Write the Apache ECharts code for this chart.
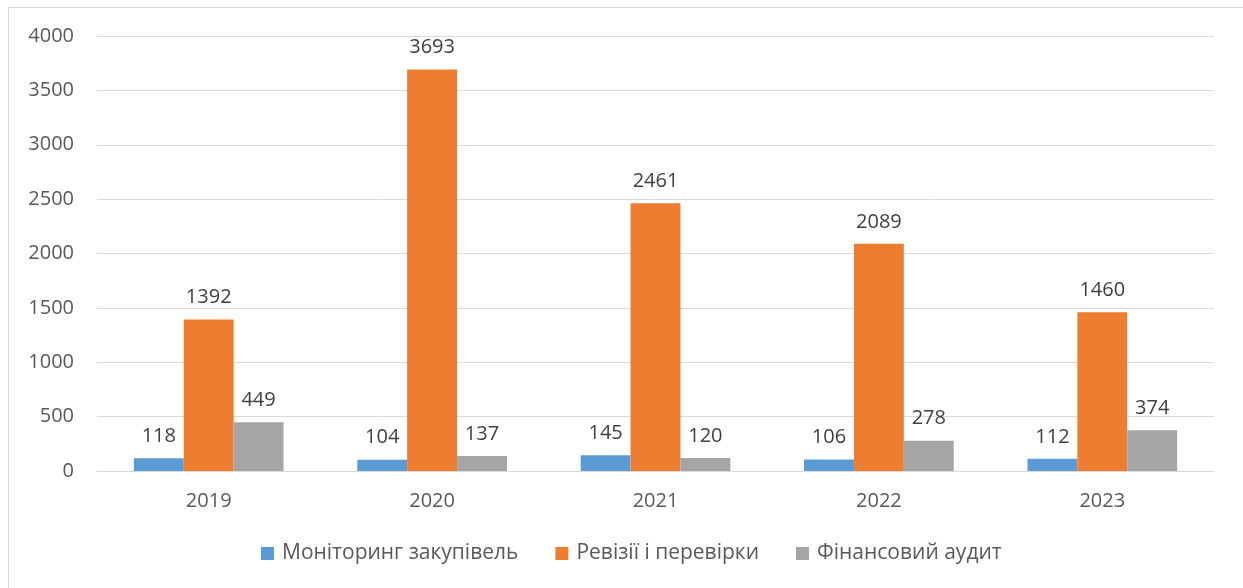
<!DOCTYPE html>
<html><head><meta charset="utf-8">
<script src="https://cdn.jsdelivr.net/npm/echarts@6/dist/echarts.min.js"></script>
<style>html,body{margin:0;padding:0;background:#fff}#frame{position:absolute;left:8px;top:7px;width:1240px;height:590px;border:1px solid #d9d9d9;box-sizing:border-box}#c{width:1243px;height:588px;position:absolute;left:0;top:0}</style>
</head><body><div id="frame"></div><div id="c"></div>
<script>
const categories = ['2019','2020','2021','2022','2023'];
const monitoring = [118, 104, 145, 106, 112];
const revisions = [1392, 3693, 2461, 2089, 1460];
const audit = [449, 137, 120, 278, 374];
const seriesNames = ['Моніторинг закупівель','Ревізії і перевірки','Фінансовий аудит'];
const colors = ['#5b9bd5','#ed7d31','#a5a5a5'];
const font = '"Open Sans", "Noto Sans", sans-serif';
const chart = echarts.init(document.getElementById('c'));
const mk = (name, data, color) => ({
  name, type: 'bar', data, barGap: '0%', barCategoryGap: '33%',
  itemStyle: {color},
  label: {show: true, position: 'top', distance: 12, color: '#404040', fontSize: 20, fontFamily: font}
});
chart.setOption({
  animation: false,
  textStyle: {fontFamily: font},
  grid: {left: 97, right: 29, top: 36, bottom: 117},
  legend: {
    bottom: 19, left: 256, itemWidth: 13, itemHeight: 13, itemGap: 37,
    icon: 'rect', textStyle: {color: '#595959', fontSize: 21, fontFamily: font, padding: [0, 0, 0, 3]},
    data: seriesNames
  },
  xAxis: {
    type: 'category', data: categories,
    axisLine: {lineStyle: {color: '#d9d9d9', width: 1}},
    axisTick: {show: false},
    axisLabel: {color: '#595959', fontSize: 20, margin: 20, fontFamily: font}
  },
  yAxis: {
    type: 'value', min: 0, max: 4000, interval: 500,
    axisLine: {show: false}, axisTick: {show: false},
    splitLine: {lineStyle: {color: '#d9d9d9'}},
    axisLabel: {color: '#595959', fontSize: 20, margin: 23, fontFamily: font, formatter: v => String(v)}
  },
  series: [
    mk(seriesNames[0], monitoring, colors[0]),
    mk(seriesNames[1], revisions, colors[1]),
    mk(seriesNames[2], audit, colors[2])
  ]
});
</script></body></html>
